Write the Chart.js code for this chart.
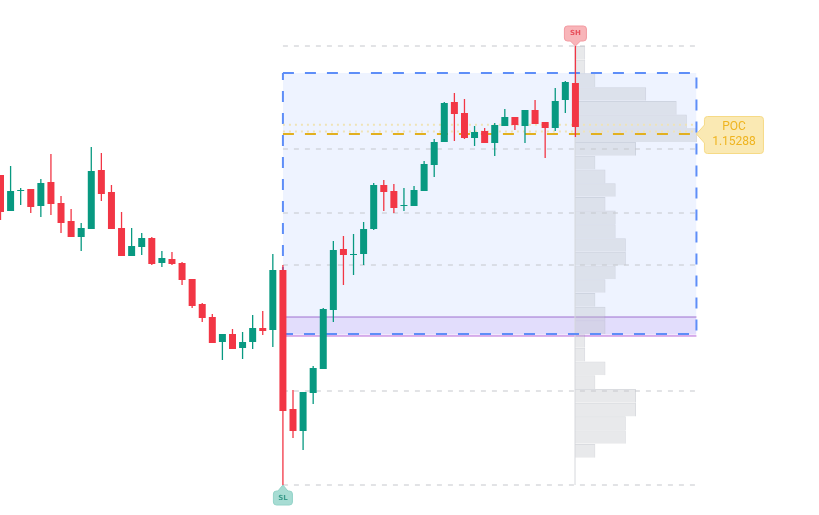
<!DOCTYPE html>
<html>
<head>
<meta charset="utf-8">
<script src="https://cdn.jsdelivr.net/npm/chart.js@4.4.1/dist/chart.umd.min.js"></script>
<style>
  html, body { margin: 0; padding: 0; background: #fff; }
  #wrap { width: 819px; height: 515px; position: relative; }
</style>
</head>
<body>
<div id="wrap"><canvas id="chart"></canvas></div>
<script>
// OHLC, one entry per bar (left to right)
const opens = [1.15083, 1.14903, 1.15003, 1.15013, 1.14928, 1.15048, 1.14943, 1.14853, 1.14773, 1.14813,
  1.15108, 1.14998, 1.14818, 1.14678, 1.14723, 1.14768, 1.14643, 1.14663, 1.14643, 1.14563,
  1.14438, 1.14373, 1.14248, 1.14288, 1.14218, 1.14248, 1.14318, 1.14308, 1.14608, 1.13913,
  1.13803, 1.13993, 1.14113, 1.14408, 1.14713, 1.14683, 1.14688, 1.14813, 1.15033, 1.15003,
  1.14928, 1.14928, 1.15003, 1.15133, 1.15248, 1.15448, 1.15393, 1.15268, 1.15303, 1.15243,
  1.15328, 1.15373, 1.15328, 1.15408, 1.15348, 1.15318, 1.15458, 1.15543];
const highs = [1.15083, 1.15128, 1.15018, 1.15013, 1.15063, 1.15188, 1.14978, 1.14913, 1.14843, 1.15223,
  1.15193, 1.15033, 1.14898, 1.14818, 1.14793, 1.14773, 1.14703, 1.14698, 1.14648, 1.14563,
  1.14443, 1.14388, 1.14288, 1.14313, 1.14298, 1.14383, 1.14403, 1.14688, 1.14633, 1.14008,
  1.13998, 1.14128, 1.14418, 1.14753, 1.14778, 1.14788, 1.14848, 1.15043, 1.15058, 1.15038,
  1.15018, 1.15028, 1.15153, 1.15263, 1.15448, 1.15493, 1.15463, 1.15328, 1.15318, 1.15343,
  1.15413, 1.15373, 1.15408, 1.15458, 1.15348, 1.15518, 1.15553, 1.15728];
const lows = [1.14858, 1.14903, 1.14933, 1.14893, 1.14873, 1.14883, 1.14793, 1.14773, 1.14703, 1.14813,
  1.14953, 1.14813, 1.14678, 1.14678, 1.14683, 1.14633, 1.14623, 1.14633, 1.14533, 1.14418,
  1.14348, 1.14243, 1.14158, 1.14213, 1.14163, 1.14213, 1.14283, 1.14223, 1.13533, 1.13768,
  1.13708, 1.13938, 1.14113, 1.14348, 1.14533, 1.14583, 1.14633, 1.14808, 1.14903, 1.14893,
  1.14903, 1.14928, 1.15003, 1.15073, 1.15248, 1.15253, 1.15263, 1.15228, 1.15243, 1.15178,
  1.15328, 1.15308, 1.15243, 1.15338, 1.15168, 1.15303, 1.15393, 1.15273];
const closes = [1.14898, 1.15003, 1.15008, 1.14923, 1.15043, 1.14938, 1.14843, 1.14773, 1.14818, 1.15103,
  1.14988, 1.14813, 1.14678, 1.14728, 1.14768, 1.14638, 1.14668, 1.14638, 1.14558, 1.14428,
  1.14368, 1.14243, 1.14288, 1.14213, 1.14248, 1.14318, 1.14303, 1.14608, 1.13903, 1.13803,
  1.13998, 1.14118, 1.14413, 1.14708, 1.14683, 1.14688, 1.14813, 1.15033, 1.14998, 1.14918,
  1.14933, 1.15008, 1.15138, 1.15248, 1.15443, 1.15388, 1.15268, 1.15298, 1.15243, 1.15333,
  1.15373, 1.15333, 1.15408, 1.15338, 1.15318, 1.15453, 1.15548, 1.15323];

// volume profile rows, top to bottom
const profilePrices = [1.15694, 1.15625, 1.15557, 1.15488, 1.15419, 1.15351, 1.15282, 1.15214,
  1.15145, 1.15076, 1.15008, 1.14939, 1.14871, 1.14802, 1.14733, 1.14665,
  1.14596, 1.14528, 1.14459, 1.14390, 1.14322, 1.14253, 1.14185, 1.14116,
  1.14047, 1.13979, 1.13910, 1.13842, 1.13773, 1.13704, 1.13636, 1.13567];
const profileVolumes = [1, 1, 2, 7, 10, 11, 12, 6, 2, 3, 4, 3, 4, 4, 5, 5,
  4, 3, 2, 3, 3, 1, 1, 3, 2, 6, 6, 5, 5, 2, 0, 0];

// swing points and levels
const swingHigh = 1.15728, swingHighBar = 57;
const swingLow = 1.13533, swingLowBar = 28;
const levelPrices = [1.15728, 1.15213, 1.14893, 1.14633, 1.14003, 1.13533];
const valueAreaHigh = 1.15593, valueAreaLow = 1.14288;
const zoneTop = 1.14373, zoneBottom = 1.14278;
const pocPrice = 1.15288;
const pocBand = [1.15334, 1.15300];
const boxStart = 28, boxEnd = 69;

const idx = opens.map((_, i) => i);
const candleColor = idx.map(i => closes[i] >= opens[i] ? '#089981' : '#f23645');
const hline = (p) => [{ x: boxStart, y: p }, { x: boxEnd, y: p }];

function tagPath(ctx, bx, by, w, h, r, side, tipX, tipY, half) {
  ctx.beginPath();
  ctx.moveTo(bx + r, by);
  if (side === 'top') { ctx.lineTo(tipX - half, by); ctx.lineTo(tipX, tipY); ctx.lineTo(tipX + half, by); }
  ctx.lineTo(bx + w - r, by);
  ctx.arcTo(bx + w, by, bx + w, by + r, r);
  ctx.lineTo(bx + w, by + h - r);
  ctx.arcTo(bx + w, by + h, bx + w - r, by + h, r);
  if (side === 'bottom') { ctx.lineTo(tipX + half, by + h); ctx.lineTo(tipX, tipY); ctx.lineTo(tipX - half, by + h); }
  ctx.lineTo(bx + r, by + h);
  ctx.arcTo(bx, by + h, bx, by + h - r, r);
  if (side === 'left') { ctx.lineTo(bx, tipY + half); ctx.lineTo(tipX, tipY); ctx.lineTo(bx, tipY - half); }
  ctx.lineTo(bx, by + r);
  ctx.arcTo(bx, by, bx + r, by, r);
  ctx.closePath();
}

// SH / SL / POC tags
const tagsPlugin = {
  id: 'tags',
  afterDatasetsDraw(chart) {
    const { ctx, scales: { x, y } } = chart;
    ctx.save();
    ctx.textAlign = 'center';
    ctx.textBaseline = 'middle';

    // swing high
    let tx = x.getPixelForValue(swingHighBar), ty = y.getPixelForValue(swingHigh);
    tagPath(ctx, tx - 11, ty - 20, 22, 15, 3, 'bottom', tx, ty, 5);
    ctx.fillStyle = '#f8b5b9';
    ctx.fill();
    ctx.strokeStyle = '#f29aa1';
    ctx.lineWidth = 1;
    ctx.stroke();
    ctx.fillStyle = '#e8505c';
    ctx.font = 'bold 7px "DejaVu Sans"';
    ctx.fillText('SH', tx, ty - 12.5);

    // swing low
    tx = x.getPixelForValue(swingLowBar); ty = y.getPixelForValue(swingLow);
    tagPath(ctx, tx - 9.5, ty + 6, 19, 14, 3, 'top', tx, ty, 5);
    ctx.fillStyle = '#a7dcd3';
    ctx.fill();
    ctx.strokeStyle = '#93d3c8';
    ctx.stroke();
    ctx.fillStyle = '#3a9b8b';
    ctx.fillText('SL', tx, ty + 13.5);

    // POC
    tx = x.getPixelForValue(boxEnd); ty = y.getPixelForValue(pocPrice);
    tagPath(ctx, tx + 8, ty - 17.5, 59, 37, 3, 'left', tx, ty, 9);
    ctx.fillStyle = '#fae9b3';
    ctx.fill();
    ctx.strokeStyle = '#f6da86';
    ctx.stroke();
    ctx.fillStyle = '#efb420';
    ctx.font = '12px Roboto';
    ctx.fillText('POC', tx + 37.5, ty - 7.5);
    ctx.fillText(pocPrice.toFixed(5), tx + 37.5, ty + 7.5);
    ctx.restore();
  }
};

const lineBase = { type: 'line', pointRadius: 0, pointHoverRadius: 0, tension: 0, borderCapStyle: 'butt' };

new Chart(document.getElementById('chart'), {
  type: 'bar',
  data: {
    datasets: [
      // value area box fill
      Object.assign({}, lineBase, {
        data: hline(valueAreaHigh), borderWidth: 0, borderColor: 'rgba(0,0,0,0)',
        backgroundColor: 'rgba(41,98,255,0.08)', fill: { value: valueAreaLow }, order: 100
      }),
      // purple zone
      Object.assign({}, lineBase, {
        data: hline(zoneTop), borderWidth: 1, borderColor: '#a070d0',
        backgroundColor: 'rgba(149,76,233,0.13)', fill: { value: zoneBottom }, order: 95
      }),
      Object.assign({}, lineBase, {
        data: hline(zoneBottom), borderWidth: 1, borderColor: '#b96ad8', fill: false, order: 94
      }),
      // volume profile
      {
        type: 'bar', indexAxis: 'y', xAxisID: 'xv', yAxisID: 'yv',
        data: profilePrices.map((p, i) => ({ x: profileVolumes[i], y: p })),
        backgroundColor: 'rgba(189,192,198,0.35)', borderColor: 'rgba(150,155,166,0.35)',
        borderWidth: { top: 1, right: 1, bottom: 0, left: 0 }, borderSkipped: false,
        grouped: false, barThickness: 13.7, maxBarThickness: 13.7, inflateAmount: 0, order: 90
      },
      Object.assign({}, lineBase, {
        xAxisID: 'xv', yAxisID: 'yv',
        data: [{ x: 0, y: swingLow }, { x: 0, y: swingHigh }],
        borderWidth: 1, borderColor: '#d6d8dc', fill: false, order: 89
      }),
      // levels
      ...levelPrices.map(p => Object.assign({}, lineBase, {
        data: hline(p), borderWidth: 1, borderColor: '#c5c7cc', borderDash: [5, 6], fill: false, order: 80
      })),
      // value area border
      Object.assign({}, lineBase, {
        data: [{ x: boxStart, y: valueAreaHigh }, { x: boxEnd, y: valueAreaHigh }, { x: boxEnd, y: valueAreaLow },
               { x: boxStart, y: valueAreaLow }, { x: boxStart, y: valueAreaHigh }],
        borderWidth: 2, borderColor: '#5e8ef8', borderDash: [11, 11], fill: false, order: 70
      }),
      // POC band and line
      ...pocBand.map(p => Object.assign({}, lineBase, {
        data: hline(p), borderWidth: 2, borderColor: '#efe3b7', borderDash: [2, 4], fill: false, order: 62
      })),
      Object.assign({}, lineBase, {
        data: hline(pocPrice), borderWidth: 2, borderColor: '#e2b01f', borderDash: [11, 11], fill: false, order: 60
      }),
      // candles
      {
        type: 'bar', data: idx.map(i => ({ x: i, y: [lows[i], highs[i]] })),
        backgroundColor: candleColor, borderWidth: 0, grouped: false,
        barThickness: 1.3, maxBarThickness: 1.3, inflateAmount: 0, order: 20
      },
      {
        type: 'bar', data: idx.map(i => ({ x: i, y: [opens[i], closes[i]] })),
        backgroundColor: candleColor, borderWidth: 0, grouped: false,
        barThickness: 7, maxBarThickness: 7, inflateAmount: 0, order: 10
      }
    ]
  },
  options: {
    responsive: true,
    maintainAspectRatio: false,
    animation: false,
    events: [],
    layout: { padding: 0 },
    scales: {
      x: { type: 'linear', min: -0.05, max: 81.15, display: false, offset: false },
      y: { type: 'linear', min: 1.13383, max: 1.15958, display: false, offset: false, beginAtZero: false },
      xv: { type: 'linear', axis: 'x', position: 'bottom', min: -56.56, max: 24, display: false, offset: false },
      yv: { type: 'linear', axis: 'y', position: 'left', min: 1.13383, max: 1.15958, display: false, offset: false, beginAtZero: false }
    },
    plugins: { legend: { display: false }, tooltip: { enabled: false } }
  },
  plugins: [tagsPlugin]
});
</script>
</body>
</html>
